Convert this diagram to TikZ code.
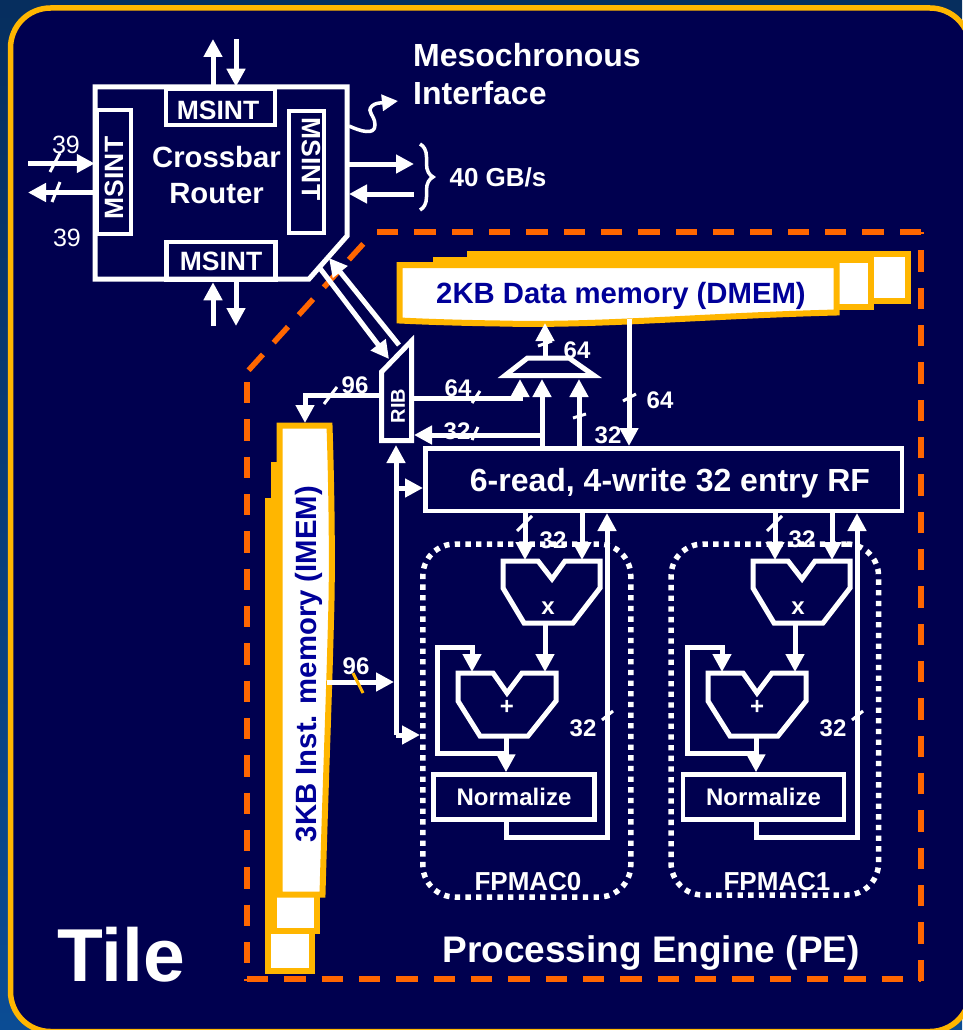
\documentclass[tikz,border=0pt]{standalone}
\usepackage{fontspec}
\setmainfont{Liberation Sans}
\usepackage{tikz}
\usetikzlibrary{arrows.meta,positioning,decorations.pathreplacing}
\definecolor{tilebg}{HTML}{00004F}
\definecolor{tilegold}{HTML}{FFB600}
\definecolor{peorange}{HTML}{FF6600}
\definecolor{memtext}{HTML}{000099}
\definecolor{topblue}{HTML}{062E5E}
\definecolor{lowblue}{HTML}{0B4C94}

\begin{document}
\begin{tikzpicture}[
    x=1pt,y=-1pt,
    box/.style={draw=white,line width=4.5pt,inner sep=0pt,text=white,align=center,font=\fontsize{26.5}{30}\selectfont\bfseries},
    lbl/.style={text=white,inner sep=0pt,align=center,font=\fontsize{24}{28}\selectfont\bfseries},
    wire/.style={draw=white,line width=5pt},
    arr/.style={-{Triangle[length=18pt,width=18pt]},draw=white,line width=5pt},
    tick/.style={draw=white,line width=3pt},
    mem/.style={draw=tilegold,fill=white,line width=6pt},
    memlbl/.style={text=memtext,inner sep=0pt,font=\fontsize{29.3}{33}\selectfont\bfseries},
    pedash/.style={draw=peorange,line width=5.5pt,dash pattern=on 21.33pt off 16pt},
    macbox/.style={draw=white,line width=5.5pt,dash pattern=on 5.3pt off 5.37pt,rounded corners=32pt,inner sep=0pt}
  ]
    \useasboundingbox (0,0) rectangle (962,1030);
    \fill[top color=topblue,bottom color=lowblue] (0,0) rectangle (962,1030);
    \draw[draw=tilegold,fill=tilebg,line width=5.5pt,rounded corners=40pt] (10.5,8) rectangle (970,1031.5);

    \draw[pedash] (921,232) -- (374,232);
    \draw[pedash,dash phase=21.33pt] (374,232) -- (247,372);
    \draw[pedash,dash phase=27.33pt] (247,372) -- (247,981);
    \draw[pedash] (247,979) -- (921,979);
    \draw[pedash] (921,981) -- (921,232);

    \draw[wire] (95,87) -- (347,87) -- (347,236) -- (309,279) -- (95,279) -- cycle;
    \node[box,minimum width=109pt,minimum height=36pt,text height=25pt] (msintT) at (220.5,107) {MSINT\hspace*{5pt}};
    \node[box,minimum width=109pt,minimum height=38pt] (msintB) at (221,261) {MSINT};
    \node[box,rotate=90,minimum width=124pt,minimum height=34pt] (msintL) at (114,172) {MSINT\hspace*{12pt}};
    \node[box,rotate=-90,minimum width=122pt,minimum height=35pt,text depth=9pt] (msintR) at (306.5,172) {MSINT\hspace*{26pt}};
    \node[lbl,font=\fontsize{29.3}{36}\selectfont\bfseries] (router) at (216.5,175) {Crossbar\\Router};
    \node[lbl,align=left,anchor=west,font=\fontsize{32}{38}\selectfont\bfseries] (mesolbl) at (413,74) {Mesochronous\\Interface};
    \node[lbl,font=\fontsize{26}{30}\selectfont\bfseries] (gbs) at (498,177) {40 GB/s};
    \node[lbl,font=\fontsize{25}{29}\selectfont] (w39a) at (66,145) {39};
    \node[lbl,font=\fontsize{25}{29}\selectfont] (w39b) at (67,238) {39};

    \coordinate (nOut) at (213,39);
    \coordinate (nIn) at (236,39);
    \coordinate (sIn) at (213,326);
    \coordinate (sOut) at (236,326);
    \coordinate (wIn) at (28,163.5);
    \coordinate (wOut) at (28,192.5);
    \coordinate (eOutA) at (349,164);
    \coordinate (eOutB) at (414,164);
    \coordinate (eInA) at (414,194);
    \coordinate (eInB) at (349,194);
    \coordinate (waveA) at (349,126);
    \coordinate (waveB) at (398,101);
    \coordinate (braceA) at (420,144);
    \coordinate (braceB) at (420,210);
    \draw[arr] (msintT.north -| nOut) -- (nOut);
    \draw[arr] (nIn) -- (nIn |- msintT.north);
    \draw[arr] (sIn) -- (sIn |- msintB.south);
    \draw[arr] (msintB.south -| sOut) -- (sOut);
    \draw[arr] (wIn) -- (wIn -| msintL.north);
    \draw[arr] (wOut -| msintL.north) -- (wOut);
    \draw[tick] (50,172) -- (60,153);
    \draw[tick] (52,202) -- (60,182);
    \draw[arr] (eOutA) -- (eOutB);
    \draw[arr] (eInA) -- (eInB);
    \draw[-{Triangle[length=16pt,width=16pt]},draw=white,line width=3.5pt] (waveA) .. controls (360,131) and (375,136) .. (375,125) .. controls (375,115) and (366,112) .. (372,106) .. controls (375,103) and (380,103) .. (waveB);
    \draw[draw=white,line width=3.5pt,decorate,decoration={brace,amplitude=13pt}] (braceA) -- (braceB);

    \draw[mem] (469.5,253.5) rectangle (907.5,300.5);
    \draw[mem] (435.5,259.5) rectangle (870.5,306.5);
    \draw[mem] (399.5,265) -- (836.5,265) -- (836.5,312.5) .. controls (700,316) and (600,326) .. (500,323.5) .. controls (465,323) and (430,322) .. (399.5,320.5) -- cycle;
    \node[memlbl] (dmem) at (621,295.5) {2KB Data memory (DMEM)};

    \draw[mem] (267.5,500.5) rectangle (311.5,970.5);
    \draw[mem] (273.5,464.5) rectangle (316.5,930.5);
    \draw[mem] (279.5,425.5) -- (329.5,425.5) .. controls (331,470) and (333,560) .. (331,620) .. controls (329,700) and (325,800) .. (322.5,894.5) -- (279.5,894.5) -- cycle;
    \node[memlbl,rotate=90] (imem) at (309,664) {3KB Inst. memory (IMEM)};

    \draw[wire] (381.5,440.5) -- (381.5,372) -- (411.5,341) -- (411.5,440.5) -- cycle;
    \node[lbl,rotate=90,font=\fontsize{20}{24}\selectfont\bfseries] (rib) at (398,406) {RIB};
    \node[box,minimum width=476.5pt,minimum height=62.5pt] (rf) at (663.5,479.5) {};
    \node[lbl,font=\fontsize{32}{36}\selectfont\bfseries] (rflbl) at (670,483.5) {6-read, 4-write 32 entry RF};
    \draw[wire] (505,375.5) -- (527.5,358) -- (569,358) -- (594,375.5) -- cycle;

    \node[lbl] (l96a) at (355,385) {96};
    \node[lbl] (l64a) at (458,388) {64};
    \node[lbl] (l32a) at (457,431) {32};
    \node[lbl] (l64b) at (577,350) {64};
    \node[lbl] (l32b) at (608,435) {32};
    \node[lbl] (l64c) at (660,400) {64};

    \coordinate (rtrA) at (319,267);
    \coordinate (ribA) at (389,359);
    \coordinate (ribB) at (399,345);
    \coordinate (rtrB) at (329,258);
    \coordinate (rib96) at (380,395);
    \coordinate (imemTop) at (305,423);
    \coordinate (rib64) at (413,398);
    \coordinate (rib32) at (414,435);
    \coordinate (muxA) at (520,379);
    \coordinate (muxB) at (542,379);
    \coordinate (muxC) at (579,379);
    \coordinate (muxTop) at (545,357);
    \coordinate (muxOut) at (545,323);
    \coordinate (dmemOut) at (629,319);
    \draw[arr] (rtrA) -- (ribA);
    \draw[arr] (ribB) -- (rtrB);
    \draw[arr] (rib96) -| (imemTop);
    \draw[tick] (324,404) -- (337,387);
    \draw[arr] (rib64) -| (muxA);
    \draw[tick] (472,403) -- (480,391);
    \draw[arr] (muxB |- rib32) -- (rib32);
    \draw[tick] (472,440) -- (478,427);
    \draw[arr] (rf.north -| muxB) -- (muxB);
    \draw[arr] (rf.north -| muxC) -- (muxC);
    \draw[tick] (573,418) -- (586,414);
    \draw[arr] (muxTop) -- (muxOut);
    \draw[tick] (538,346) -- (552,341);
    \draw[arr] (dmemOut) -- (dmemOut |- rf.north);
    \draw[tick] (623,401) -- (636,394);

    \coordinate (busTop) at (396,445);
    \coordinate (busEnd) at (420,735);
    \coordinate (rfIn) at (423,488);
    \coordinate (imemOut) at (327,682);
    \coordinate (busIn) at (394,682);
    \draw[arr] (busEnd -| busTop) -- (busTop);
    \draw[arr] (busTop |- busEnd) -- (busEnd);
    \draw[arr] (rfIn -| busTop) -- (rfIn);
    \draw[arr] (imemOut) -- (busIn);
    \draw[draw=tilegold,line width=3pt] (353,673) -- (363,693);
    \node[lbl] (l96b) at (356,666) {96};

    \node[macbox,minimum width=208pt,minimum height=353pt] (fpmac0) at (526.8,720.5) {};
    \node[box,minimum width=161pt,minimum height=45pt,font=\fontsize{24}{28}\selectfont\bfseries] (norm0) at (514,797) {Normalize};
    \node[lbl,font=\fontsize{26}{30}\selectfont\bfseries] (mac0lbl) at (528,882) {FPMAC0};
    \node[lbl] (x0) at (548,608) {x};
    \node[lbl] (p0) at (507,707) {+};
    \node[lbl] (l32c) at (553,540) {32};
    \node[lbl] (l32d) at (583,728) {32};
    \draw[wire] (503,561) -- (538,561) -- (552,579) -- (565,561) -- (600,561) -- (600,588) -- (573,623) -- (524,623) -- (503,588) -- cycle;
    \draw[wire] (458,673) -- (493,673) -- (507,693) -- (522,673) -- (556,673) -- (556,701) -- (528,736) -- (480,736) -- (458,701) -- cycle;
    \coordinate (mulA0) at (525,560);
    \coordinate (mulB0) at (582,560);
    \coordinate (mulOut0) at (545,623);
    \coordinate (addA0) at (472,672);
    \coordinate (addB0) at (545,672);
    \coordinate (addOut0) at (506,736);
    \coordinate (fb0) at (437,753);
    \coordinate (fbTop0) at (437,647);
    \coordinate (ret0) at (607,837);
    \draw[arr] (rf.south -| mulA0) -- (mulA0);
    \draw[arr] (rf.south -| mulB0) -- (mulB0);
    \draw[tick] (517,531) -- (532,516);
    \draw[arr] (mulOut0) -- (addB0);
    \draw[arr] (addOut0) -- (addOut0 |- norm0.north);
    \draw[arr] (addOut0 |- fb0) -- (fb0) -- (fbTop0) -| (addA0);
    \draw[arr] (norm0.south -| addOut0) |- (ret0) -- (ret0 |- rf.south);
    \draw[tick] (602,720) -- (613,711);

    \node[macbox,minimum width=207.5pt,minimum height=351pt] (fpmac1) at (774.8,719.5) {};
    \node[box,minimum width=161pt,minimum height=45pt,font=\fontsize{24}{28}\selectfont\bfseries,right=84pt of norm0] (norm1) {Normalize};
    \node[lbl,font=\fontsize{26}{30}\selectfont\bfseries] (mac1lbl) at (777,882) {FPMAC1};
    \node[lbl] (x1) at (798,608) {x};
    \node[lbl] (p1) at (757,707) {+};
    \node[lbl] (l32e) at (802,539) {32};
    \node[lbl] (l32f) at (833,728) {32};
    \draw[wire] (753,561) -- (788,561) -- (802,579) -- (815,561) -- (850,561) -- (850,588) -- (823,623) -- (774,623) -- (753,588) -- cycle;
    \draw[wire] (708,673) -- (743,673) -- (757,693) -- (772,673) -- (806,673) -- (806,701) -- (778,736) -- (730,736) -- (708,701) -- cycle;
    \coordinate (mulA1) at (775,560);
    \coordinate (mulB1) at (832,560);
    \coordinate (mulOut1) at (795,623);
    \coordinate (addA1) at (722,672);
    \coordinate (addB1) at (795,672);
    \coordinate (addOut1) at (756,736);
    \coordinate (fb1) at (687,753);
    \coordinate (fbTop1) at (687,647);
    \coordinate (ret1) at (857,837);
    \draw[arr] (rf.south -| mulA1) -- (mulA1);
    \draw[arr] (rf.south -| mulB1) -- (mulB1);
    \draw[tick] (767,531) -- (782,516);
    \draw[arr] (mulOut1) -- (addB1);
    \draw[arr] (addOut1) -- (addOut1 |- norm1.north);
    \draw[arr] (addOut1 |- fb1) -- (fb1) -- (fbTop1) -| (addA1);
    \draw[arr] (norm1.south -| addOut1) |- (ret1) -- (ret1 |- rf.south);
    \draw[tick] (852,720) -- (863,711);

    \node[lbl,font=\fontsize{75}{80}\selectfont\bfseries] (tile) at (121,955) {Tile};
    \node[lbl,font=\fontsize{37}{41}\selectfont\bfseries] (pe) at (651,953) {Processing Engine (PE)};
  \end{tikzpicture}
\end{document}
